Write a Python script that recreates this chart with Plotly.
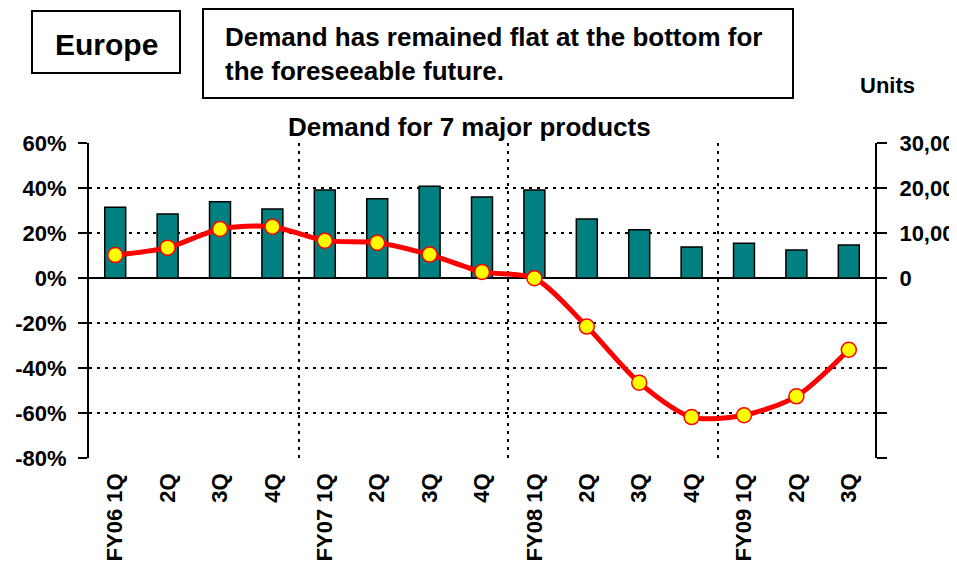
import plotly.graph_objects as go

categories = ["FY06 1Q", "2Q", "3Q", "4Q", "FY07 1Q", "2Q", "3Q", "4Q",
              "FY08 1Q", "2Q", "3Q", "4Q", "FY09 1Q", "2Q", "3Q"]
units = [15700, 14200, 16950, 15330, 19550, 17630, 20370, 18000,
         19550, 13100, 10740, 6890, 7700, 6220, 7330]
growth_pct = [10.2, 13.5, 21.8, 22.8, 16.6, 15.7, 10.4, 2.7,
              -0.1, -21.6, -46.5, -61.8, -61.0, -52.6, -31.9]

pct_ticks = [-80, -60, -40, -20, 0, 20, 40, 60]
pct_labels = [f"{v}%" for v in pct_ticks]
unit_ticks = [-40000, -30000, -20000, -10000, 0, 10000, 20000, 30000]
unit_labels = [f"{v:,}" if v >= 0 else "" for v in unit_ticks]

xs = list(range(len(categories)))
year_bounds = [i - 0.5 for i, c in enumerate(categories) if c.startswith("FY") and i > 0]

FONT = "Liberation Sans, Arial, sans-serif"
DASH = "3px,5px"

# figure sized to the page area (the page body has an 8px margin)
W, H = 949, 560
L, R, T, B = 81, 82, 135, 110
OFF = 8

fig = go.Figure()
fig.add_trace(go.Bar(
    x=xs, y=units, yaxis="y", width=0.4,
    marker=dict(color="#008080", line=dict(color="black", width=1.5)),
    showlegend=False,
))
fig.add_trace(go.Scatter(
    x=xs, y=growth_pct, yaxis="y2", mode="lines+markers",
    line=dict(color="#ff0000", width=5, shape="spline", smoothing=0.8),
    marker=dict(size=15, color="#ffff00", line=dict(color="#ff0000", width=1.5)),
    showlegend=False,
))

fig.update_layout(
    width=W, height=H,
    margin=dict(l=L, r=R, t=T, b=B, autoexpand=False),
    paper_bgcolor="white", plot_bgcolor="white",
    font=dict(family=FONT, color="black"),
    xaxis=dict(
        range=[-0.5, len(categories) - 0.5], automargin=False,
        tickmode="array", tickvals=xs, ticktext=[f"<b>{c}</b>" for c in categories],
        tickangle=-90, tickfont=dict(size=22),
        showgrid=False, zeroline=False, showline=False, ticks="",
        ticklabelstandoff=10,
        minor=dict(tickmode="array", tickvals=year_bounds, showgrid=True,
                   gridcolor="black", gridwidth=2, griddash=DASH),
    ),
    yaxis=dict(
        range=[-40000, 30000], side="right", automargin=False,
        tickmode="array", tickvals=unit_ticks,
        ticktext=[f"<b>{t}</b>" for t in unit_labels], tickfont=dict(size=22),
        showgrid=True, gridcolor="black", gridwidth=2, griddash=DASH,
        zeroline=True, zerolinecolor="black", zerolinewidth=2,
        showline=True, linecolor="black", linewidth=2,
        ticks="outside", ticklen=10, tickwidth=2, tickcolor="black",
        ticklabelstandoff=8,
    ),
    yaxis2=dict(
        range=[-80, 60], overlaying="y", side="left", automargin=False,
        tickmode="array", tickvals=pct_ticks,
        ticktext=[f"<b>{t}</b>" for t in pct_labels], tickfont=dict(size=22),
        showgrid=False, zeroline=False,
        showline=True, linecolor="black", linewidth=2,
        ticks="outside", ticklen=9, tickwidth=2, tickcolor="black",
        ticklabelstandoff=7,
    ),
)

pw, ph = W - L - R, H - T - B


def px(x):
    return (x - OFF - L) / pw


def py(y):
    return (H - B - (y - OFF)) / ph


fig.update_layout(shapes=[
    dict(type="rect", xref="paper", yref="paper", x0=px(32), x1=px(180), y0=py(73), y1=py(11),
         line=dict(color="black", width=2), fillcolor="rgba(0,0,0,0)"),
    dict(type="rect", xref="paper", yref="paper", x0=px(203), x1=px(793), y0=py(98), y1=py(9),
         line=dict(color="black", width=2), fillcolor="rgba(0,0,0,0)"),
])

fig.add_annotation(xref="paper", yref="paper", x=px(106), y=py(44), text="<b>Europe</b>",
                   showarrow=False, font=dict(size=30, family=FONT), xanchor="center", yanchor="middle")
fig.add_annotation(xref="paper", yref="paper", x=px(223), y=py(54),
                   text="<b>Demand has remained flat at the bottom for<br>the foreseeable future.</b>",
                   showarrow=False, font=dict(size=26, family=FONT), xanchor="left", yanchor="middle",
                   align="left")
fig.add_annotation(xref="paper", yref="paper", x=px(887), y=py(85), text="<b>Units</b>",
                   showarrow=False, font=dict(size=22, family=FONT), xanchor="center", yanchor="middle")
fig.add_annotation(xref="paper", yref="paper", x=px(469), y=py(127), text="<b>Demand for 7 major products</b>",
                   showarrow=False, font=dict(size=26, family=FONT), xanchor="center", yanchor="middle")

fig.write_html("out.html")
